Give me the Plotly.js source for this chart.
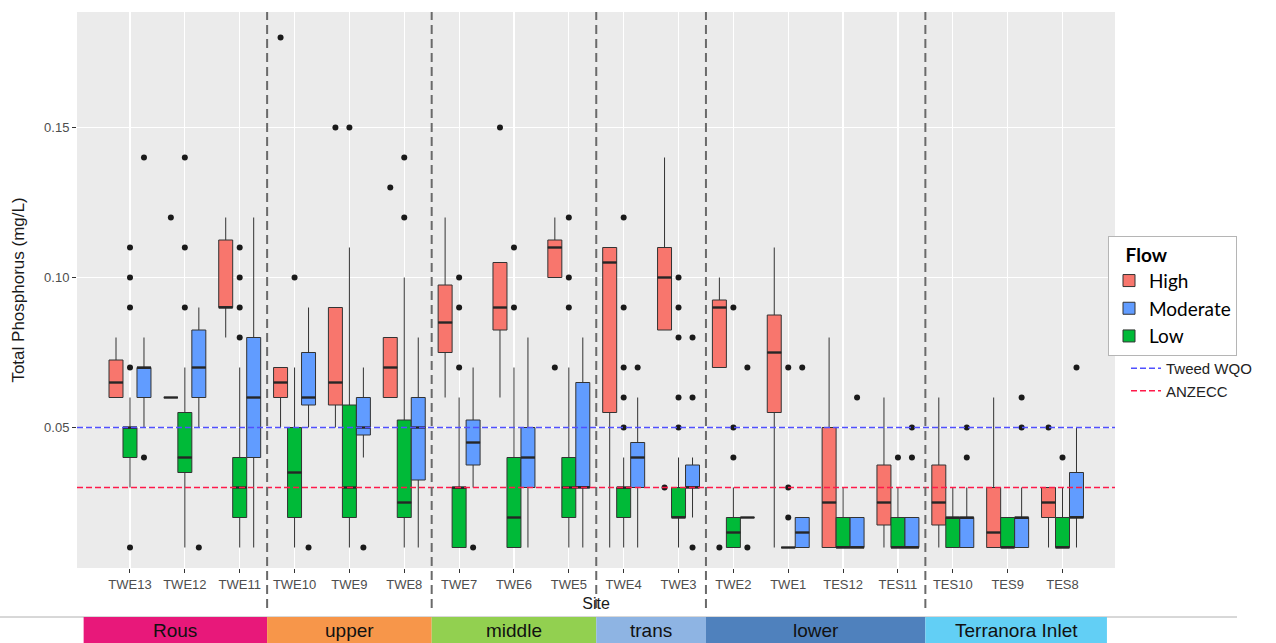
<!DOCTYPE html>
<html>
<head>
<meta charset="utf-8">
<script src="https://cdn.plot.ly/plotly-3.0.1.min.js"></script>
<style>html,body{margin:0;padding:0;background:#fff;}#chart{width:1276px;height:643px;}</style>
</head>
<body>
<div id="chart"></div>
<script>
// ---------------- data ----------------
const sites = ['TWE13','TWE12','TWE11','TWE10','TWE9','TWE8','TWE7','TWE6','TWE5','TWE4','TWE3','TWE2','TWE1','TES12','TES11','TES10','TES9','TES8'];
const groupNames = ['Rous','upper','middle','trans','lower','Terranora Inlet'];
const groupSizes = [3,3,3,2,4,3];
const groupColors = ['#E8187A','#F7964A','#92D050','#8EB4E3','#4F81BD','#62CFF5'];

const flows = ['High','Low','Moderate'];
const flowColors = ['#F8766D','#00BA38','#619CFF'];
const flowLegendRank = [1,3,2];

const highLo  = [.06,.06,.08,.05,.05,.06,.06,.06,.10,.01,.0825,.07,.01,.01,.01,.01,.01,.01];
const highQ1  = [.06,.06,.09,.06,.0575,.06,.075,.0825,.10,.055,.0825,.07,.055,.01,.0175,.0175,.01,.02];
const highMed = [.065,.06,.09,.065,.065,.07,.085,.09,.11,.105,.10,.09,.075,.025,.025,.025,.015,.025];
const highQ3  = [.0725,.06,.1125,.07,.09,.08,.0975,.105,.1125,.11,.11,.0925,.0875,.05,.0375,.0375,.03,.03];
const highHi  = [.08,.06,.12,.07,.09,.08,.12,.105,.12,.11,.14,.10,.11,.08,.06,.06,.06,.03];
const highOut = [[],[.12],[],[.18],[.15],[.13],[],[.15],[.07],[],[.03],[.01],[],[],[],[],[],[.05]];

const lowLo  = [.03,.01,.01,.01,.01,.01,.01,.01,.01,.01,.01,.01,.01,.01,.01,.01,.01,.01];
const lowQ1  = [.04,.035,.02,.02,.02,.02,.01,.01,.02,.02,.02,.01,.01,.01,.01,.01,.01,.01];
const lowMed = [.05,.04,.03,.035,.03,.025,.03,.02,.03,.03,.02,.015,.01,.01,.01,.02,.01,.01];
const lowQ3  = [.05,.055,.04,.05,.0575,.0525,.03,.04,.04,.03,.03,.02,.01,.02,.02,.02,.02,.02];
const lowHi  = [.06,.07,.07,.07,.11,.10,.06,.07,.07,.04,.04,.03,.01,.03,.03,.03,.02,.03];
const lowOut = [[.01,.07,.09,.10,.11],[.09,.11,.14],[.08,.09,.10,.11],[.10],[.15],[.12,.14],[.07,.09,.10],[.09,.11],[.09,.10,.12],[.05,.06,.07,.09,.12],[.05,.06,.08,.09,.10],[.04,.05,.09],[.02,.03,.07],[],[.04],[],[],[.04]];

const modLo  = [.05,.05,.01,.05,.04,.01,.03,.01,.01,.01,.02,.02,.01,.01,.01,.01,.01,.01];
const modQ1  = [.06,.06,.04,.0575,.0475,.0325,.0375,.03,.03,.03,.03,.02,.01,.01,.01,.01,.01,.02];
const modMed = [.07,.07,.06,.06,.05,.05,.045,.04,.03,.04,.03,.02,.015,.01,.01,.02,.02,.02];
const modQ3  = [.07,.0825,.08,.075,.06,.06,.0525,.05,.065,.045,.0375,.02,.02,.02,.02,.02,.02,.035];
const modHi  = [.08,.09,.12,.09,.07,.08,.07,.08,.08,.06,.04,.02,.02,.02,.02,.03,.03,.05];
const modOut = [[.04,.14],[.01],[],[.01],[.01],[],[.01],[],[],[.07],[.01,.06,.08],[.01,.07],[.07],[.06],[.04,.05],[.04,.05],[.05,.06],[.07]];

const thresholdNames = ['Tweed WQO','ANZECC'];
const thresholdValues = [0.05, 0.03];
const thresholdColors = ['#5050FF','#FF1A4A'];

// ---------------- layout constants ----------------
const W = 1276, H = 643;
const M = {l:77, r:161, t:12, b:75};
const plotW = W - M.l - M.r, plotH = H - M.t - M.b;
const px2paperY = y => (H - M.b - y) / plotH;
const px2paperX = x => (x - M.l) / plotW;

const boxW = 0.255;
const dodge = [-boxW, 0, boxW];
const stripStart = -0.845, stripEnd = 17.81;

const stats = [
  {lo:highLo,q1:highQ1,med:highMed,q3:highQ3,hi:highHi,out:highOut},
  {lo:lowLo,q1:lowQ1,med:lowMed,q3:lowQ3,hi:lowHi,out:lowOut},
  {lo:modLo,q1:modQ1,med:modMed,q3:modQ3,hi:modHi,out:modOut}
];

const idx = sites.map((_, i) => i);
const traces = [];
flows.forEach((f, k) => {
  const s = stats[k];
  const xs = idx.map(i => i + dodge[k]);
  traces.push({
    type:'box', name:f, x:xs,
    q1:s.q1, median:s.med, q3:s.q3, lowerfence:s.lo, upperfence:s.hi,
    width:boxW, whiskerwidth:0, boxpoints:false,
    fillcolor:flowColors[k], line:{color:'#333333', width:1},
    legend:'legend', legendrank:flowLegendRank[k], hoverinfo:'skip'
  });
});
// thicker median bars (ggplot style)
flows.forEach((f, k) => {
  const s = stats[k];
  const mx = [], my = [];
  idx.forEach(i => {
    const c = i + dodge[k];
    mx.push(c - boxW/2, c + boxW/2, null);
    my.push(s.med[i], s.med[i], null);
  });
  traces.push({type:'scatter', mode:'lines', x:mx, y:my, showlegend:false,
    line:{color:'#262626', width:2.4}, hoverinfo:'skip'});
});
// outliers
flows.forEach((f, k) => {
  const s = stats[k];
  const ox = [], oy = [];
  idx.forEach(i => s.out[i].forEach(v => { ox.push(i + dodge[k]); oy.push(v); }));
  traces.push({type:'scatter', mode:'markers', x:ox, y:oy, showlegend:false,
    marker:{color:'#1a1a1a', size:6}, hoverinfo:'skip'});
});

// group boundaries
const bounds = [];
let acc = 0;
groupSizes.forEach((n, g) => { acc += n; if (g < groupSizes.length - 1) bounds.push(acc - 0.5); });
const edges = [stripStart].concat(bounds).concat([stripEnd]);

const shapes = [];
// thin grey rule at strip top
shapes.push({type:'line', xref:'paper', yref:'paper', x0:px2paperX(0), x1:px2paperX(1237),
  y0:px2paperY(617), y1:px2paperY(617), line:{color:'#b0b0b0', width:1}, layer:'above'});
// strips
groupNames.forEach((g, j) => {
  shapes.push({type:'rect', xref:'x', yref:'paper', x0:edges[j], x1:edges[j+1],
    y0:px2paperY(643), y1:px2paperY(617), fillcolor:groupColors[j], line:{width:0}, layer:'above'});
});
// threshold lines
thresholdNames.forEach((n, j) => {
  shapes.push({type:'line', xref:'paper', yref:'y', x0:0, x1:1, y0:thresholdValues[j], y1:thresholdValues[j],
    line:{color:thresholdColors[j], width:1.3, dash:'6px,3px'}, layer:'above',
    showlegend:true, name:n, legend:'legend2', legendrank:j+1});
});
// separators
bounds.forEach(b => {
  shapes.push({type:'line', xref:'x', yref:'paper', x0:b, x1:b, y0:px2paperY(608), y1:1,
    line:{color:'#6a6a6a', width:2, dash:'9px,5px'}, layer:'above'});
});

const annotations = groupNames.map((g, j) => ({
  xref:'x', yref:'paper', x:(edges[j] + edges[j+1]) / 2, y:px2paperY(630.5),
  text:g, showarrow:false, xanchor:'center', yanchor:'middle',
  font:{family:'Liberation Sans, Arial, sans-serif', size:19, color:'#111'}
}));

const layout = {
  width:W, height:H,
  margin:{l:M.l, r:M.r, t:M.t, b:M.b, pad:0},
  paper_bgcolor:'#ffffff', plot_bgcolor:'#EBEBEB',
  font:{family:'Liberation Sans, Arial, sans-serif', color:'#1a1a1a'},
  showlegend:true,
  xaxis:{
    type:'linear', range:[-0.966, 17.957], tickmode:'array', tickvals:idx, ticktext:sites,
    showgrid:true, gridcolor:'#ffffff', gridwidth:1.2, zeroline:false, showline:false,
    ticks:'outside', ticklen:4, tickcolor:'#333333', tickwidth:1,
    tickfont:{size:13, color:'#4d4d4d'},
    title:{text:'Site', font:{size:16, color:'#1a1a1a'}, standoff:7}
  },
  yaxis:{
    range:[0.00317, 0.1885], tickmode:'array', tickvals:[0.05, 0.10, 0.15], tickformat:'.2f',
    showgrid:true, gridcolor:'#ffffff', gridwidth:1.2, zeroline:false, showline:false,
    ticks:'outside', ticklen:4, tickcolor:'#333333', tickwidth:1,
    tickfont:{size:13, color:'#4d4d4d'},
    title:{text:'Total Phosphorus (mg/L)', font:{size:17, color:'#1a1a1a'}, standoff:15}
  },
  legend:{
    x:px2paperX(1108), y:px2paperY(236), xanchor:'left', yanchor:'top',
    bgcolor:'#ffffff', bordercolor:'#b5b5b5', borderwidth:1,
    title:{text:'&nbsp;&nbsp;&nbsp;<b>Flow</b>', font:{family:'Lato, sans-serif', size:19, color:'#000'}},
    font:{family:'Lato, sans-serif', size:19, color:'#000'},
    traceorder:'normal', itemclick:false
  },
  legend2:{
    x:px2paperX(1126), y:px2paperY(352), xanchor:'left', yanchor:'top',
    bgcolor:'rgba(0,0,0,0)', borderwidth:0,
    font:{family:'Liberation Sans, Arial, sans-serif', size:15, color:'#222'},
    itemwidth:30, traceorder:'normal'
  },
  shapes:shapes,
  annotations:annotations
};

Plotly.newPlot('chart', traces, layout, {displayModeBar:false, staticPlot:true});
</script>
</body>
</html>
